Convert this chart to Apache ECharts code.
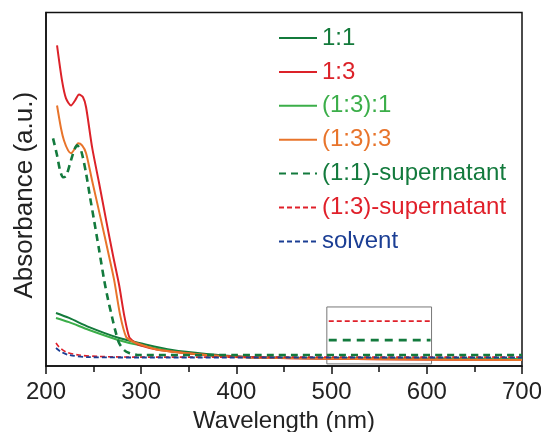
<!DOCTYPE html>
<html>
<head>
<meta charset="utf-8">
<script src="https://cdn.jsdelivr.net/npm/echarts@6/dist/echarts.min.js"></script>
<style>
  html, body { margin: 0; padding: 0; background: #fff; }
  #main { width: 541px; height: 432px; }
</style>
</head>
<body>
<div id="main"></div>
<script>
// wavelength (nm) and absorbance (a.u., arbitrary 0-100)
const wl13 = [211.6, 216.8, 221, 226.3, 230.5, 234.7, 238.9, 242.1, 248.4, 255.8, 263.2, 270.5, 276.8, 282.1, 287.4, 292.6, 297.9, 319, 368.4, 413.7, 455.8, 550, 700];
const abs13 = [90.7, 80.8, 75.7, 73.7, 75.1, 76.8, 76.0, 73.2, 61.9, 51.7, 41.2, 31.1, 22.9, 14.4, 8.2, 6.8, 5.9, 4.5, 3.1, 2.5, 2.2, 1.9, 1.7];

const wl133 = [211.6, 215.8, 218.9, 223.2, 226.3, 230.5, 233.7, 237.9, 242.1, 248.4, 257.9, 265.3, 271.6, 277.9, 284.2, 289.5, 294.7, 319, 368.4, 413.7, 550, 700];
const abs133 = [73.7, 67.2, 63.8, 61.0, 60.2, 61.6, 63.0, 62.4, 60.2, 52.5, 41.2, 32.2, 24.3, 14.4, 8.2, 7.1, 6.5, 4.5, 3.1, 2.4, 1.9, 1.7];

const wl11 = [210.5, 224.2, 245.3, 276.8, 297.9, 332.6, 368.4, 413.7, 550, 700];
const abs11 = [15.0, 13.6, 11.0, 7.9, 6.5, 4.5, 3.4, 2.5, 2.1, 2.0];

const wl131 = [210.5, 224.2, 245.3, 276.8, 297.9, 332.6, 368.4, 413.7, 550, 700];
const abs131 = [13.6, 12.4, 10.2, 7.3, 5.9, 4.2, 3.1, 2.5, 2.1, 2.0];

const wlSup11 = [207.4, 211.6, 214.7, 217.9, 221, 225.3, 229.5, 232.6, 236.8, 242.1, 246.3, 250.5, 255.8, 261.1, 265.3, 268.4, 272.6, 276.8, 282.1, 287.4, 297.9, 400, 700];
const absSup11 = [64.4, 59.6, 55.4, 53.4, 53.7, 57.3, 61.0, 62.4, 61.0, 54.5, 47.7, 41.2, 32.8, 24.3, 18.6, 15.0, 10.2, 6.5, 4.5, 3.7, 3.1, 3.1, 3.1];

const wlSup13 = [210.5, 213.7, 221, 234.7, 255.8, 300, 700];
const absSup13 = [6.5, 5.4, 4.0, 3.1, 2.7, 2.5, 2.5];

const wlSolvent = [210.5, 215.8, 224.2, 245.3, 300, 700];
const absSolvent = [5.1, 4.0, 3.1, 2.5, 2.4, 2.4];

// inset: the two supernatants, offset so they can be told apart
const wlInset = [497, 604];
const absInsetSup13 = [12.7, 12.7];
const absInsetSup11 = [7.3, 7.3];
const insetBox = [[495, 16.7], [605, 0.6]];

const xTicks = [200, 300, 400, 500, 600, 700];

const names = ['1:1', '1:3', '(1:3):1', '(1:3):3', '(1:1)-supernatant', '(1:3)-supernatant', 'solvent'];
const colors = ['#137a3b', '#dc2229', '#3bae49', '#e8742b', '#137a3d', '#e0202a', '#1b3e94'];

function pairs(xs, ys) {
  return xs.map((x, i) => [x, ys[i]]);
}

const font = 'Liberation Sans, Arial, sans-serif';
const chart = echarts.init(document.getElementById('main'));

chart.setOption({
  animation: false,
  grid: {
    left: 46, right: 19, top: 12.5, bottom: 66,
    outerBoundsMode: 'none', containLabel: false,
    show: true, borderColor: '#111', borderWidth: 1.5
  },
  legend: {
    orient: 'vertical',
    left: 273, top: 21,
    padding: 5,
    itemWidth: 38, itemHeight: 14, itemGap: 9.9,
    itemStyle: { opacity: 0 },
    textStyle: { fontFamily: font, fontSize: 24, lineHeight: 24 },
    data: names.map((n, i) => ({ name: n, textStyle: { color: colors[i] } }))
  },
  xAxis: {
    type: 'value', min: 200, max: 700, interval: 100,
    name: 'Wavelength (nm)', nameLocation: 'middle', nameGap: 37,
    nameTextStyle: { fontFamily: font, fontSize: 24, color: '#222' },
    axisLine: { lineStyle: { color: '#111', width: 1.5 } },
    axisTick: { inside: false, length: 8, lineStyle: { color: '#111', width: 1.5 } },
    minorTick: { show: true, splitNumber: 2, length: 6, lineStyle: { color: '#111', width: 1.5 } },
    axisLabel: { fontFamily: font, fontSize: 24, color: '#222', margin: 14,
      formatter: v => xTicks.includes(v) ? String(v) : '' },
    splitLine: { show: false }
  },
  yAxis: {
    type: 'value', min: 0, max: 100,
    name: 'Absorbance (a.u.)', nameLocation: 'middle', nameGap: 8,
    nameTextStyle: { fontFamily: font, fontSize: 26, color: '#222', padding: [0, 12, 0, 0] },
    axisLine: { show: true, lineStyle: { color: '#111', width: 1.5 } },
    axisTick: { show: false },
    axisLabel: { show: false },
    splitLine: { show: false }
  },
  series: [
    { name: '1:1', type: 'line', data: pairs(wl11, abs11), smooth: 0.3, symbol: 'none',
      lineStyle: { color: colors[0], width: 2 }, itemStyle: { color: colors[0] } },
    { name: '(1:3):1', type: 'line', data: pairs(wl131, abs131), smooth: 0.3, symbol: 'none',
      lineStyle: { color: colors[2], width: 2 }, itemStyle: { color: colors[2] } },
    { name: '1:3', type: 'line', data: pairs(wl13, abs13), smooth: 0.25, symbol: 'none',
      lineStyle: { color: colors[1], width: 2 }, itemStyle: { color: colors[1] } },
    { name: '(1:3):3', type: 'line', data: pairs(wl133, abs133), smooth: 0.25, symbol: 'none',
      lineStyle: { color: colors[3], width: 2 }, itemStyle: { color: colors[3] } },
    { name: '(1:3)-supernatant', type: 'line', data: pairs(wlSup13, absSup13), smooth: 0.3, symbol: 'none',
      lineStyle: { color: colors[5], width: 1.6, type: [5, 3] }, itemStyle: { color: colors[5] } },
    { name: 'solvent', type: 'line', data: pairs(wlSolvent, absSolvent), smooth: 0.3, symbol: 'none',
      lineStyle: { color: colors[6], width: 1.8, type: [5, 3] }, itemStyle: { color: colors[6] } },
    { name: '(1:1)-supernatant', type: 'line', data: pairs(wlSup11, absSup11), smooth: 0.25, symbol: 'none',
      lineStyle: { color: colors[4], width: 2.6, type: [7, 5] }, itemStyle: { color: colors[4] } },
    { name: 'inset-13', type: 'line', data: pairs(wlInset, absInsetSup13), symbol: 'none', silent: true,
      lineStyle: { color: colors[5], width: 1.8, type: [5, 3] },
      markArea: {
        silent: true,
        itemStyle: { color: 'rgba(0,0,0,0)', borderColor: '#777', borderWidth: 1 },
        data: [[{ coord: insetBox[0] }, { coord: insetBox[1] }]]
      } },
    { name: 'inset-11', type: 'line', data: pairs(wlInset, absInsetSup11), symbol: 'none', silent: true,
      lineStyle: { color: colors[4], width: 2.8, type: [8, 6] } }
  ]
});
</script>
</body>
</html>
